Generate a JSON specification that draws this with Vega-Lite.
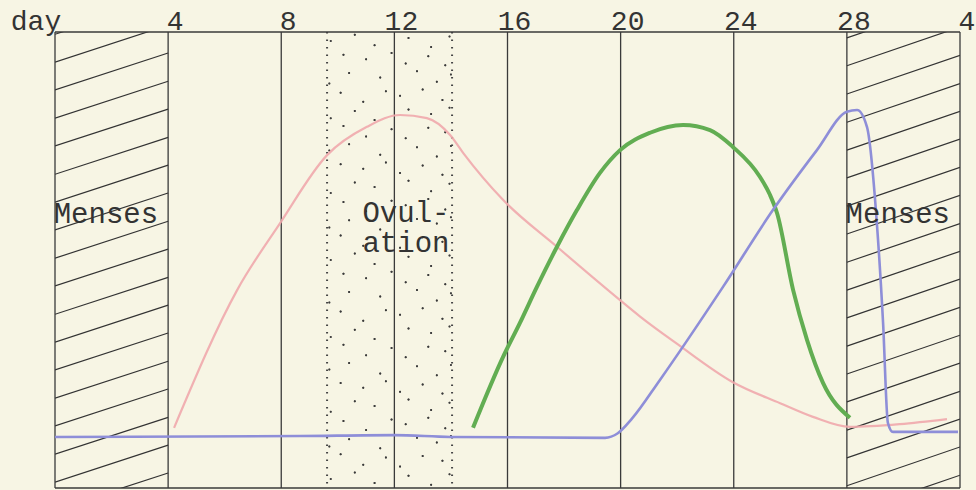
{
  "$schema": "https://vega.github.io/schema/vega-lite/v6.json",
  "width": 905,
  "height": 456,
  "autosize": {"type": "none"},
  "padding": {"left": 55, "top": 32, "right": 16, "bottom": 2},
  "background": "#f7f5e4",
  "config": {"view": {"stroke": null}, "font": "Liberation Mono"},
  "datasets": {
    "grid": [{"day": 0}, {"day": 4}, {"day": 8}, {"day": 12}, {"day": 16}, {"day": 20}, {"day": 24}, {"day": 28}, {"day": 32}],
    "ticklabels": [
      {"day": 4, "level": 100.44, "text": "4"}, {"day": 8, "level": 100.44, "text": "8"}, {"day": 12, "level": 100.44, "text": "12"},
      {"day": 16, "level": 100.44, "text": "16"}, {"day": 20, "level": 100.44, "text": "20"}, {"day": 24, "level": 100.44, "text": "24"},
      {"day": 28, "level": 100.44, "text": "28"}, {"day": 32, "level": 100.44, "text": "4"}
    ],
    "axistitle": [{"day": 0, "level": 100.44, "text": "day"}],
    "frame": [{"lv": 0}, {"lv": 100}],
    "edges": [{"day": 9.62}, {"day": 14.04}],
    "hatch": [
      {"x": 0, "x2": 4, "y": -4.8, "y2": 3.3}, {"x": 0, "x2": 4, "y": 1.3, "y2": 9.4}, {"x": 0, "x2": 4, "y": 7.4, "y2": 15.5},
      {"x": 0, "x2": 4, "y": 13.6, "y2": 21.7}, {"x": 0, "x2": 4, "y": 19.7, "y2": 27.8}, {"x": 0, "x2": 4, "y": 25.9, "y2": 34.0},
      {"x": 0, "x2": 4, "y": 32.0, "y2": 40.1}, {"x": 0, "x2": 4, "y": 38.1, "y2": 46.2}, {"x": 0, "x2": 4, "y": 44.3, "y2": 52.4},
      {"x": 0, "x2": 4, "y": 50.4, "y2": 58.5}, {"x": 0, "x2": 4, "y": 56.6, "y2": 64.7}, {"x": 0, "x2": 4, "y": 62.7, "y2": 70.8},
      {"x": 0, "x2": 4, "y": 68.8, "y2": 76.9}, {"x": 0, "x2": 4, "y": 75.0, "y2": 83.1}, {"x": 0, "x2": 4, "y": 81.1, "y2": 89.2},
      {"x": 0, "x2": 4, "y": 87.3, "y2": 95.4}, {"x": 0, "x2": 4, "y": 93.4, "y2": 101.5}, {"x": 0, "x2": 4, "y": 99.5, "y2": 107.6},
      {"x": 28, "x2": 32, "y": -5.7, "y2": 2.8}, {"x": 28, "x2": 32, "y": 0.5, "y2": 9.0}, {"x": 28, "x2": 32, "y": 6.6, "y2": 15.1},
      {"x": 28, "x2": 32, "y": 12.7, "y2": 21.2}, {"x": 28, "x2": 32, "y": 18.9, "y2": 27.4}, {"x": 28, "x2": 32, "y": 25.0, "y2": 33.5},
      {"x": 28, "x2": 32, "y": 31.1, "y2": 39.6}, {"x": 28, "x2": 32, "y": 37.3, "y2": 45.8}, {"x": 28, "x2": 32, "y": 43.4, "y2": 51.9},
      {"x": 28, "x2": 32, "y": 49.5, "y2": 58.0}, {"x": 28, "x2": 32, "y": 55.7, "y2": 64.2}, {"x": 28, "x2": 32, "y": 61.8, "y2": 70.3},
      {"x": 28, "x2": 32, "y": 68.0, "y2": 76.5}, {"x": 28, "x2": 32, "y": 74.1, "y2": 82.6}, {"x": 28, "x2": 32, "y": 80.2, "y2": 88.7},
      {"x": 28, "x2": 32, "y": 86.4, "y2": 94.9}, {"x": 28, "x2": 32, "y": 92.6, "y2": 101.1}, {"x": 28, "x2": 32, "y": 98.7, "y2": 107.2}
    ],
    "stipple": [
      {"d": 9.75, "l": 2.0}, {"d": 10.6, "l": 3.4}, {"d": 11.3, "l": 1.1}, {"d": 12.5, "l": 2.7}, {"d": 13.3, "l": 0.7}, {"d": 13.95, "l": 3.0},
      {"d": 10.1, "l": 7.4}, {"d": 10.9, "l": 5.1}, {"d": 11.7, "l": 6.7}, {"d": 12.2, "l": 4.7}, {"d": 13.0, "l": 7.0}, {"d": 13.7, "l": 6.0},
      {"d": 9.7, "l": 9.1}, {"d": 10.4, "l": 10.7}, {"d": 11.5, "l": 8.7}, {"d": 12.8, "l": 11.0}, {"d": 13.5, "l": 10.0}, {"d": 14.0, "l": 11.4},
      {"d": 10.2, "l": 14.7}, {"d": 11.0, "l": 12.7}, {"d": 11.9, "l": 15.0}, {"d": 12.4, "l": 14.0}, {"d": 13.2, "l": 15.4}, {"d": 13.8, "l": 13.1},
      {"d": 9.75, "l": 16.7}, {"d": 10.6, "l": 19.0}, {"d": 11.3, "l": 18.0}, {"d": 12.5, "l": 19.4}, {"d": 13.3, "l": 17.1}, {"d": 13.95, "l": 18.7},
      {"d": 10.1, "l": 23.0}, {"d": 10.9, "l": 22.0}, {"d": 11.7, "l": 23.4}, {"d": 12.2, "l": 21.1}, {"d": 13.0, "l": 22.7}, {"d": 13.7, "l": 20.7},
      {"d": 9.7, "l": 26.0}, {"d": 10.4, "l": 27.4}, {"d": 11.5, "l": 25.1}, {"d": 12.8, "l": 26.7}, {"d": 13.5, "l": 24.7}, {"d": 14.0, "l": 27.0},
      {"d": 10.2, "l": 31.4}, {"d": 11.0, "l": 29.1}, {"d": 11.9, "l": 30.7}, {"d": 12.4, "l": 28.7}, {"d": 13.2, "l": 31.0}, {"d": 13.8, "l": 30.0},
      {"d": 9.75, "l": 33.1}, {"d": 10.6, "l": 34.7}, {"d": 11.3, "l": 32.7}, {"d": 12.5, "l": 35.0}, {"d": 13.3, "l": 34.0}, {"d": 13.95, "l": 35.4},
      {"d": 10.1, "l": 38.7}, {"d": 10.9, "l": 36.7}, {"d": 11.7, "l": 39.0}, {"d": 12.2, "l": 38.0}, {"d": 13.0, "l": 39.4}, {"d": 13.7, "l": 37.1},
      {"d": 9.7, "l": 40.7}, {"d": 10.4, "l": 43.0}, {"d": 11.5, "l": 42.0}, {"d": 12.8, "l": 43.4}, {"d": 13.5, "l": 41.1}, {"d": 14.0, "l": 42.7},
      {"d": 10.2, "l": 47.0}, {"d": 11.0, "l": 46.0}, {"d": 11.9, "l": 47.4}, {"d": 12.4, "l": 45.1}, {"d": 13.2, "l": 46.7}, {"d": 13.8, "l": 44.7},
      {"d": 9.75, "l": 50.0}, {"d": 10.6, "l": 51.4}, {"d": 11.3, "l": 49.1}, {"d": 12.5, "l": 50.7}, {"d": 13.3, "l": 48.7}, {"d": 13.95, "l": 51.0},
      {"d": 10.1, "l": 55.4}, {"d": 10.9, "l": 53.1}, {"d": 11.7, "l": 54.7}, {"d": 12.2, "l": 52.7}, {"d": 13.0, "l": 55.0}, {"d": 13.7, "l": 54.0},
      {"d": 9.7, "l": 57.1}, {"d": 10.4, "l": 58.7}, {"d": 11.5, "l": 56.7}, {"d": 12.8, "l": 59.0}, {"d": 13.5, "l": 58.0}, {"d": 14.0, "l": 59.4},
      {"d": 10.2, "l": 62.7}, {"d": 11.0, "l": 60.7}, {"d": 11.9, "l": 63.0}, {"d": 12.4, "l": 62.0}, {"d": 13.2, "l": 63.4}, {"d": 13.8, "l": 61.1},
      {"d": 9.75, "l": 64.7}, {"d": 10.6, "l": 67.0}, {"d": 11.3, "l": 66.0}, {"d": 12.5, "l": 67.4}, {"d": 13.3, "l": 65.1}, {"d": 13.95, "l": 66.7},
      {"d": 10.1, "l": 71.0}, {"d": 10.9, "l": 70.0}, {"d": 11.7, "l": 71.4}, {"d": 12.2, "l": 69.1}, {"d": 13.0, "l": 70.7}, {"d": 13.7, "l": 68.7},
      {"d": 9.7, "l": 74.0}, {"d": 10.4, "l": 75.4}, {"d": 11.5, "l": 73.1}, {"d": 12.8, "l": 74.7}, {"d": 13.5, "l": 72.7}, {"d": 14.0, "l": 75.0},
      {"d": 10.2, "l": 79.4}, {"d": 11.0, "l": 77.1}, {"d": 11.9, "l": 78.7}, {"d": 12.4, "l": 76.7}, {"d": 13.2, "l": 79.0}, {"d": 13.8, "l": 78.0},
      {"d": 9.75, "l": 81.1}, {"d": 10.6, "l": 82.7}, {"d": 11.3, "l": 80.7}, {"d": 12.5, "l": 83.0}, {"d": 13.3, "l": 82.0}, {"d": 13.95, "l": 83.4},
      {"d": 10.1, "l": 86.7}, {"d": 10.9, "l": 84.7}, {"d": 11.7, "l": 87.0}, {"d": 12.2, "l": 86.0}, {"d": 13.0, "l": 87.4}, {"d": 13.7, "l": 85.1},
      {"d": 9.7, "l": 88.7}, {"d": 10.4, "l": 91.0}, {"d": 11.5, "l": 90.0}, {"d": 12.8, "l": 91.4}, {"d": 13.5, "l": 89.1}, {"d": 14.0, "l": 90.7},
      {"d": 10.2, "l": 95.0}, {"d": 11.0, "l": 94.0}, {"d": 11.9, "l": 95.4}, {"d": 12.4, "l": 93.1}, {"d": 13.2, "l": 94.7}, {"d": 13.8, "l": 92.7},
      {"d": 9.75, "l": 98.0}, {"d": 10.6, "l": 99.4}, {"d": 11.3, "l": 97.1}, {"d": 12.5, "l": 98.7}, {"d": 13.3, "l": 96.7}, {"d": 13.95, "l": 99.0}
    ],
    "curves": [
      {"series": "pink", "day": 4.21, "level": 13.2}, {"series": "pink", "day": 6.44, "level": 43.4}, {"series": "pink", "day": 7.96, "level": 58.1},
      {"series": "pink", "day": 9.62, "level": 73.0}, {"series": "pink", "day": 11.03, "level": 79.2}, {"series": "pink", "day": 12.2, "level": 81.8},
      {"series": "pink", "day": 13.15, "level": 81.1}, {"series": "pink", "day": 13.97, "level": 77.4}, {"series": "pink", "day": 14.43, "level": 73.5},
      {"series": "pink", "day": 15.84, "level": 63.2}, {"series": "pink", "day": 17.75, "level": 52.9}, {"series": "pink", "day": 19.98, "level": 41.2},
      {"series": "pink", "day": 20.69, "level": 37.6}, {"series": "pink", "day": 22.0, "level": 31.6}, {"series": "pink", "day": 23.97, "level": 23.2},
      {"series": "pink", "day": 25.64, "level": 18.6}, {"series": "pink", "day": 26.8, "level": 15.6}, {"series": "pink", "day": 28.11, "level": 13.4},
      {"series": "pink", "day": 29.88, "level": 14.0}, {"series": "pink", "day": 31.54, "level": 15.1},
      {"series": "green", "day": 14.78, "level": 13.2}, {"series": "green", "day": 15.84, "level": 28.7}, {"series": "green", "day": 16.44, "level": 36.2},
      {"series": "green", "day": 17.04, "level": 44.1}, {"series": "green", "day": 17.75, "level": 52.9}, {"series": "green", "day": 18.46, "level": 61.0},
      {"series": "green", "day": 19.27, "level": 69.1}, {"series": "green", "day": 19.98, "level": 74.1}, {"series": "green", "day": 21.04, "level": 77.9},
      {"series": "green", "day": 22.21, "level": 79.6}, {"series": "green", "day": 23.16, "level": 78.5}, {"series": "green", "day": 23.97, "level": 74.8},
      {"series": "green", "day": 24.93, "level": 68.2}, {"series": "green", "day": 25.28, "level": 64.3}, {"series": "green", "day": 25.53, "level": 60.3},
      {"series": "green", "day": 26.1, "level": 43.4}, {"series": "green", "day": 26.59, "level": 32.5}, {"series": "green", "day": 27.16, "level": 23.0},
      {"series": "green", "day": 28.11, "level": 15.4},
      {"series": "blue", "day": 0, "level": 11.2}, {"series": "blue", "day": 8.66, "level": 11.4}, {"series": "blue", "day": 12.0, "level": 11.6},
      {"series": "blue", "day": 13.97, "level": 11.2}, {"series": "blue", "day": 19.45, "level": 11.0}, {"series": "blue", "day": 19.9, "level": 12.0},
      {"series": "blue", "day": 20.4, "level": 15.2}, {"series": "blue", "day": 21.39, "level": 23.7}, {"series": "blue", "day": 23.62, "level": 44.1},
      {"series": "blue", "day": 25.39, "level": 61.0}, {"series": "blue", "day": 26.94, "level": 74.1}, {"series": "blue", "day": 28.0, "level": 82.5},
      {"series": "blue", "day": 28.36, "level": 82.9}, {"series": "blue", "day": 28.71, "level": 79.2}, {"series": "blue", "day": 29.06, "level": 58.1},
      {"series": "blue", "day": 29.28, "level": 36.2}, {"series": "blue", "day": 29.45, "level": 14.3}, {"series": "blue", "day": 29.63, "level": 12.3},
      {"series": "blue", "day": 31.93, "level": 12.3}
    ],
    "labels": [
      {"day": 1.8, "level": 58.1, "text": "Menses"},
      {"day": 12.41, "level": 58.3, "text": "Ovul-\nation"},
      {"day": 29.8, "level": 58.1, "text": "Menses"}
    ]
  },
  "layer": [
    {
      "data": {"name": "stipple"},
      "mark": {"type": "point", "filled": true, "size": 4, "color": "#3a3a3a", "opacity": 0.85},
      "encoding": {
        "x": {"field": "d", "type": "quantitative", "scale": {"domain": [0, 32], "nice": false, "zero": false}, "axis": null},
        "y": {"field": "l", "type": "quantitative", "scale": {"domain": [0, 100], "nice": false, "zero": false}, "axis": null}
      }
    },
    {
      "data": {"name": "stipple"},
      "mark": {"type": "point", "filled": true, "size": 4, "color": "#3a3a3a", "opacity": 0.85, "dx": 10, "dy": -9},
      "encoding": {
        "x": {"field": "d", "type": "quantitative", "scale": {"domain": [0, 32], "nice": false, "zero": false}, "axis": null},
        "y": {"field": "l", "type": "quantitative", "scale": {"domain": [0, 100], "nice": false, "zero": false}, "axis": null}
      }
    },
    {
      "data": {"name": "stipple"},
      "transform": [{"filter": "datum.d > 9.9 && datum.d < 13.85"}],
      "mark": {"type": "point", "filled": true, "size": 3, "color": "#3a3a3a", "opacity": 0.75, "dx": -7, "dy": 6},
      "encoding": {
        "x": {"field": "d", "type": "quantitative", "scale": {"domain": [0, 32], "nice": false, "zero": false}, "axis": null},
        "y": {"field": "l", "type": "quantitative", "scale": {"domain": [0, 100], "nice": false, "zero": false}, "axis": null}
      }
    },
    {
      "data": {"name": "edges"},
      "mark": {"type": "rule", "color": "#444444", "strokeWidth": 2, "strokeDash": [1.5, 6]},
      "encoding": {
        "x": {"field": "day", "type": "quantitative", "scale": {"domain": [0, 32], "nice": false, "zero": false}, "axis": null}
      }
    },
    {
      "data": {"name": "hatch"},
      "mark": {"type": "rule", "color": "#333333", "strokeWidth": 1.2, "clip": true},
      "encoding": {
        "x": {"field": "x", "type": "quantitative", "scale": {"domain": [0, 32], "nice": false, "zero": false}, "axis": null},
        "x2": {"field": "x2"},
        "y": {"field": "y", "type": "quantitative", "scale": {"domain": [0, 100], "nice": false, "zero": false}, "axis": null},
        "y2": {"field": "y2"}
      }
    },
    {
      "data": {"name": "grid"},
      "mark": {"type": "rule", "color": "#3a3a3a", "strokeWidth": 1.3},
      "encoding": {
        "x": {"field": "day", "type": "quantitative", "scale": {"domain": [0, 32], "nice": false, "zero": false}, "axis": null}
      }
    },
    {
      "data": {"name": "frame"},
      "mark": {"type": "rule", "color": "#3a3a3a", "strokeWidth": 1.3},
      "encoding": {
        "y": {"field": "lv", "type": "quantitative", "scale": {"domain": [0, 100], "nice": false, "zero": false}, "axis": null}
      }
    },
    {
      "data": {"name": "curves"},
      "transform": [{"filter": "datum.series == 'pink'"}],
      "mark": {"type": "line", "interpolate": "monotone", "color": "#f0a8ac", "strokeWidth": 2.2, "opacity": 0.9},
      "encoding": {
        "x": {"field": "day", "type": "quantitative", "scale": {"domain": [0, 32], "nice": false, "zero": false}, "axis": null},
        "y": {"field": "level", "type": "quantitative", "scale": {"domain": [0, 100], "nice": false, "zero": false}, "axis": null}
      }
    },
    {
      "data": {"name": "curves"},
      "transform": [{"filter": "datum.series == 'green'"}],
      "mark": {"type": "line", "interpolate": "monotone", "color": "#62ad52", "strokeWidth": 4},
      "encoding": {
        "x": {"field": "day", "type": "quantitative", "scale": {"domain": [0, 32], "nice": false, "zero": false}, "axis": null},
        "y": {"field": "level", "type": "quantitative", "scale": {"domain": [0, 100], "nice": false, "zero": false}, "axis": null}
      }
    },
    {
      "data": {"name": "curves"},
      "transform": [{"filter": "datum.series == 'blue'"}],
      "mark": {"type": "line", "interpolate": "monotone", "color": "#8e8ed8", "strokeWidth": 2.6},
      "encoding": {
        "x": {"field": "day", "type": "quantitative", "scale": {"domain": [0, 32], "nice": false, "zero": false}, "axis": null},
        "y": {"field": "level", "type": "quantitative", "scale": {"domain": [0, 100], "nice": false, "zero": false}, "axis": null}
      }
    },
    {
      "data": {"name": "labels"},
      "mark": {"type": "text", "font": "Liberation Mono", "fontSize": 29, "color": "#333333", "align": "center", "baseline": "alphabetic", "lineBreak": "\n", "lineHeight": 30},
      "encoding": {
        "x": {"field": "day", "type": "quantitative", "scale": {"domain": [0, 32], "nice": false, "zero": false}, "axis": null},
        "y": {"field": "level", "type": "quantitative", "scale": {"domain": [0, 100], "nice": false, "zero": false}, "axis": null},
        "text": {"field": "text"}
      }
    },
    {
      "data": {"name": "ticklabels"},
      "mark": {"type": "text", "font": "Liberation Mono", "fontSize": 28, "color": "#333333", "align": "center", "baseline": "alphabetic", "dx": 7},
      "encoding": {
        "x": {"field": "day", "type": "quantitative", "scale": {"domain": [0, 32], "nice": false, "zero": false}, "axis": null},
        "y": {"field": "level", "type": "quantitative", "scale": {"domain": [0, 100], "nice": false, "zero": false}, "axis": null},
        "text": {"field": "text"}
      }
    },
    {
      "data": {"name": "axistitle"},
      "mark": {"type": "text", "font": "Liberation Mono", "fontSize": 28, "color": "#333333", "align": "center", "baseline": "alphabetic", "dx": -19},
      "encoding": {
        "x": {"field": "day", "type": "quantitative", "scale": {"domain": [0, 32], "nice": false, "zero": false}, "axis": null},
        "y": {"field": "level", "type": "quantitative", "scale": {"domain": [0, 100], "nice": false, "zero": false}, "axis": null},
        "text": {"field": "text"}
      }
    }
  ]
}
